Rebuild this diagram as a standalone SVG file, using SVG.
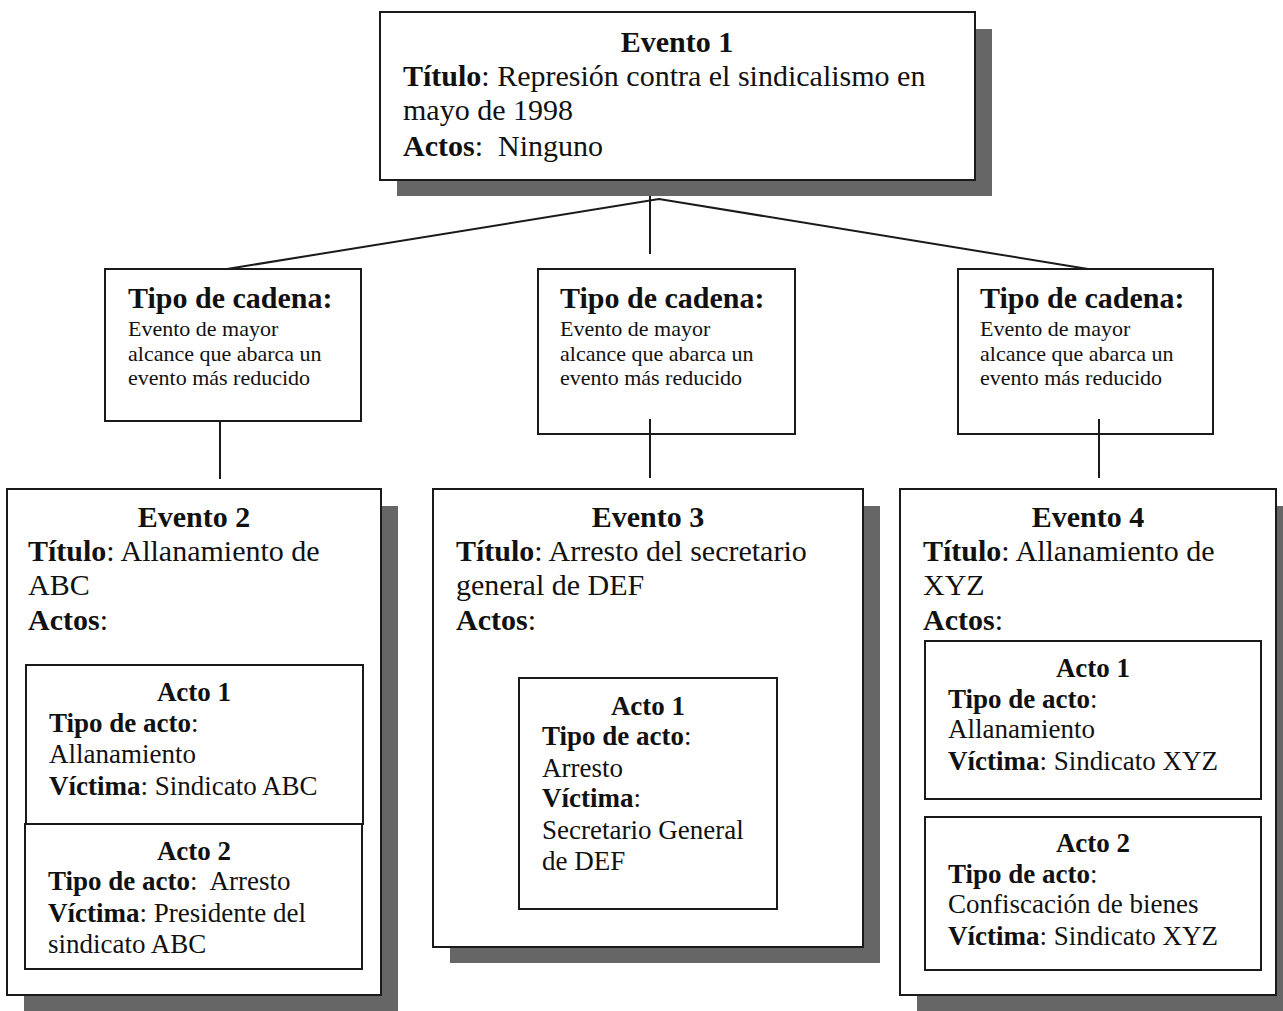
<svg xmlns="http://www.w3.org/2000/svg" width="1283" height="1011" viewBox="0 0 1283 1011">
  <style>
    .box{fill:#fff;stroke:#1a1a1a;stroke-width:2}
    .shadow{fill:#666}
    .conn{stroke:#1a1a1a;stroke-width:2;fill:none}
    text{font-family:"Liberation Serif","Times New Roman",serif;fill:#111}
    .ev{font-size:30px}
    .act{font-size:27px}
    .hd{font-size:30px;font-weight:bold}
    .sm{font-size:22px}
    .b{font-weight:bold}
    .c{text-anchor:middle}
    .pre{white-space:pre}
  </style>
  <rect width="1283" height="1011" fill="#fff"/>

  <!-- Evento 1 -->
  <g id="evento1">
    <rect class="shadow" x="397" y="29" width="595" height="167"/>
    <rect class="box" x="380" y="12" width="595" height="168"/>
    <text class="ev b c" x="677" y="52">Evento 1</text>
    <text class="ev" x="403" y="86"><tspan class="b">Título</tspan>: Represión contra el sindicalismo en</text>
    <text class="ev" x="403" y="120">mayo de 1998</text>
    <text class="ev pre" x="403" y="156"><tspan class="b">Actos</tspan>:  Ninguno</text>
  </g>

  <!-- Tipo de cadena (izquierda) -->
  <g id="cadena1">
    <rect class="box" x="105" y="269" width="256" height="152"/>
    <text class="hd" x="128" y="308">Tipo de cadena:</text>
    <text class="sm" x="128" y="336">Evento de mayor</text>
    <text class="sm" x="128" y="361">alcance que abarca un</text>
    <text class="sm" x="128" y="385">evento más reducido</text>
  </g>

  <!-- Tipo de cadena (centro) -->
  <g id="cadena2">
    <rect class="box" x="538" y="269" width="257" height="165"/>
    <text class="hd" x="560" y="308">Tipo de cadena:</text>
    <text class="sm" x="560" y="336">Evento de mayor</text>
    <text class="sm" x="560" y="361">alcance que abarca un</text>
    <text class="sm" x="560" y="385">evento más reducido</text>
  </g>

  <!-- Tipo de cadena (derecha) -->
  <g id="cadena3">
    <rect class="box" x="958" y="269" width="255" height="165"/>
    <text class="hd" x="980" y="308">Tipo de cadena:</text>
    <text class="sm" x="980" y="336">Evento de mayor</text>
    <text class="sm" x="980" y="361">alcance que abarca un</text>
    <text class="sm" x="980" y="385">evento más reducido</text>
  </g>

  <!-- Evento 2 -->
  <g id="evento2">
    <rect class="shadow" x="24" y="506" width="374" height="506"/>
    <rect class="box" x="7" y="489" width="374" height="506"/>
    <text class="ev b c" x="194" y="527">Evento 2</text>
    <text class="ev" x="28" y="561"><tspan class="b">Título</tspan>: Allanamiento de</text>
    <text class="ev" x="28" y="595">ABC</text>
    <text class="ev" x="28" y="630"><tspan class="b">Actos</tspan>:</text>
    <g id="evento2-acto1">
      <rect class="box" x="26" y="665" width="337" height="159"/>
      <text class="act b c" x="194" y="701">Acto 1</text>
      <text class="act" x="49" y="732"><tspan class="b">Tipo de acto</tspan>:</text>
      <text class="act" x="49" y="763">Allanamiento</text>
      <text class="act" x="49" y="795"><tspan class="b">Víctima</tspan>: Sindicato ABC</text>
    </g>
    <g id="evento2-acto2">
      <rect class="box" x="25" y="824" width="337" height="145"/>
      <text class="act b c" x="194" y="860">Acto 2</text>
      <text class="act pre" x="48" y="890"><tspan class="b">Tipo de acto</tspan>:  Arresto</text>
      <text class="act" x="48" y="922"><tspan class="b">Víctima</tspan>: Presidente del</text>
      <text class="act" x="48" y="953">sindicato ABC</text>
    </g>
  </g>

  <!-- Evento 3 -->
  <g id="evento3">
    <rect class="shadow" x="450" y="506" width="430" height="457"/>
    <rect class="box" x="433" y="489" width="430" height="458"/>
    <text class="ev b c" x="648" y="527">Evento 3</text>
    <text class="ev" x="456" y="561"><tspan class="b">Título</tspan>: Arresto del secretario</text>
    <text class="ev" x="456" y="595">general de DEF</text>
    <text class="ev" x="456" y="630"><tspan class="b">Actos</tspan>:</text>
    <g id="evento3-acto1">
      <rect class="box" x="519" y="678" width="258" height="231"/>
      <text class="act b c" x="648" y="715">Acto 1</text>
      <text class="act" x="542" y="745"><tspan class="b">Tipo de acto</tspan>:</text>
      <text class="act" x="542" y="777">Arresto</text>
      <text class="act" x="542" y="807"><tspan class="b">Víctima</tspan>:</text>
      <text class="act" x="542" y="839">Secretario General</text>
      <text class="act" x="542" y="870">de DEF</text>
    </g>
  </g>

  <!-- Evento 4 -->
  <g id="evento4">
    <rect class="shadow" x="917" y="506" width="376" height="506"/>
    <rect class="box" x="900" y="489" width="376" height="506"/>
    <text class="ev b c" x="1088" y="527">Evento 4</text>
    <text class="ev" x="923" y="561"><tspan class="b">Título</tspan>: Allanamiento de</text>
    <text class="ev" x="923" y="595">XYZ</text>
    <text class="ev" x="923" y="630"><tspan class="b">Actos</tspan>:</text>
    <g id="evento4-acto1">
      <rect class="box" x="925" y="641" width="336" height="158"/>
      <text class="act b c" x="1093" y="677">Acto 1</text>
      <text class="act" x="948" y="708"><tspan class="b">Tipo de acto</tspan>:</text>
      <text class="act" x="948" y="738">Allanamiento</text>
      <text class="act" x="948" y="770"><tspan class="b">Víctima</tspan>: Sindicato XYZ</text>
    </g>
    <g id="evento4-acto2">
      <rect class="box" x="925" y="817" width="336" height="153"/>
      <text class="act b c" x="1093" y="852">Acto 2</text>
      <text class="act" x="948" y="883"><tspan class="b">Tipo de acto</tspan>:</text>
      <text class="act" x="948" y="913">Confiscación de bienes</text>
      <text class="act" x="948" y="945"><tspan class="b">Víctima</tspan>: Sindicato XYZ</text>
    </g>
  </g>

  <!-- Conectores -->
  <g id="connectors">
    <polyline class="conn" points="227,269 659,199 1088,269"/>
    <line class="conn" x1="650" y1="196" x2="650" y2="254"/>
    <line class="conn" x1="220" y1="421" x2="220" y2="479"/>
    <line class="conn" x1="650" y1="419" x2="650" y2="478"/>
    <line class="conn" x1="1099" y1="419" x2="1099" y2="478"/>
  </g>
</svg>
